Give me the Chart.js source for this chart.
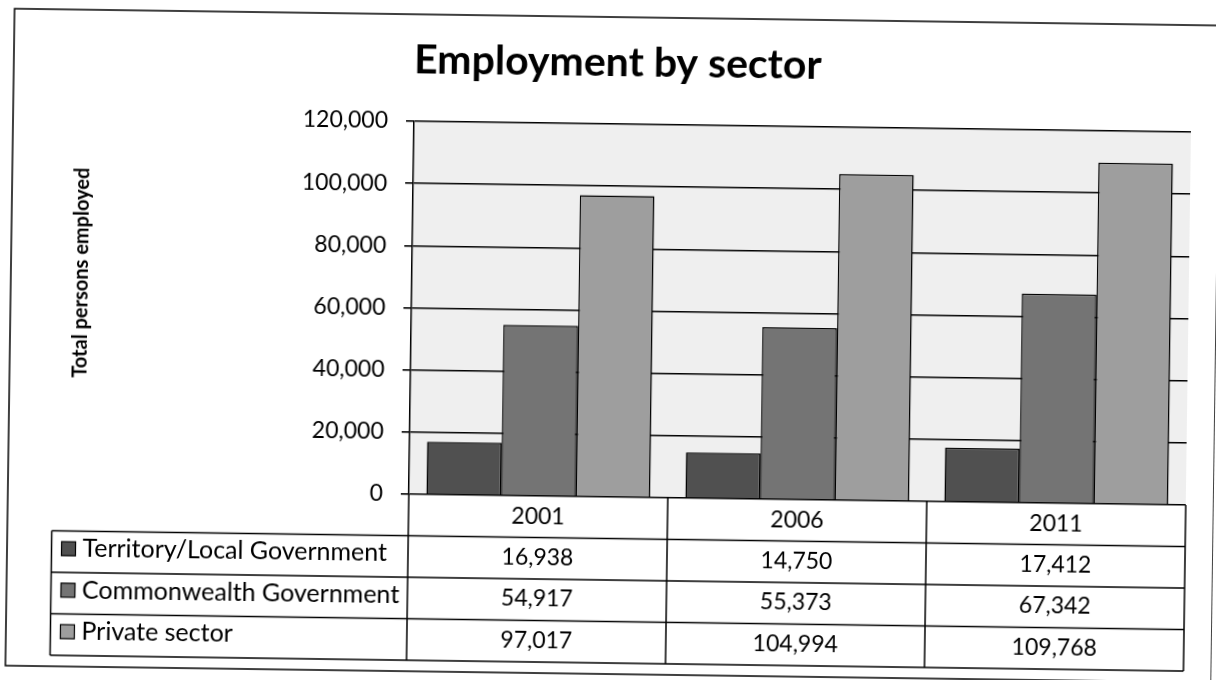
<!DOCTYPE html>
<html>
<head>
<meta charset="utf-8">
<title>Employment by sector</title>
<script src="https://cdn.jsdelivr.net/npm/chart.js@4.4.1/dist/chart.umd.min.js"></script>
<style>
  html, body { margin: 0; padding: 0; background: #fff; }
  #chart { display: block; transform: rotate(0.8deg); }
</style>
</head>
<body>
<canvas id="chart" width="1216" height="680"></canvas>
<script>
const years = ['2001', '2006', '2011'];
const territoryLocal = [16938, 14750, 17412];
const commonwealth = [54917, 55373, 67342];
const privateSector = [97017, 104994, 109768];
const seriesNames = ['Territory/Local Government', 'Commonwealth Government', 'Private sector'];
const yTicks = [0, 20000, 40000, 60000, 80000, 100000, 120000];

const FONT = 'Lato';
const fills = ['#505050', '#747474', '#9e9e9e'];
const fmt = v => v.toLocaleString('en-US');

// plot wall, outer frame, headings and the data table under the columns
const sheetExtras = {
    id: 'sheetExtras',
    beforeDraw(chart) {
        const { ctx, chartArea: a } = chart;
        ctx.save();
        ctx.fillStyle = '#efefef';
        ctx.fillRect(a.left, a.top, a.right - a.left, a.bottom - a.top);
        ctx.restore();
    },
    afterDraw(chart) {
        const { ctx, chartArea: a } = chart;
        const x = chart.scales.x;
        const rowH = 41.5;
        const top = a.bottom;
        const labelLeft = 54.5;
        const colW = x.getPixelForValue(1) - x.getPixelForValue(0);

        ctx.save();
        ctx.strokeStyle = '#000';
        ctx.lineWidth = 1.5;

        // outer frame
        ctx.strokeRect(10, 17, 1206, 657);

        // table grid
        ctx.beginPath();
        for (let r = 1; r <= 4; r++) {
            ctx.moveTo(labelLeft, top + r * rowH);
            ctx.lineTo(a.right, top + r * rowH);
        }
        ctx.moveTo(labelLeft, top + rowH);
        ctx.lineTo(labelLeft, top + 4 * rowH);
        for (let i = 0; i <= years.length; i++) {
            const gx = x.getPixelForValue(0) - colW / 2 + i * colW;
            ctx.moveTo(gx, top);
            ctx.lineTo(gx, top + 4 * rowH);
        }
        ctx.stroke();

        ctx.fillStyle = '#000';
        ctx.font = `23px ${FONT}`;
        ctx.textAlign = 'center';
        ctx.textBaseline = 'middle';
        years.forEach((y, i) => {
            ctx.fillText(y, x.getPixelForValue(i), top + rowH / 2);
        });
        chart.data.datasets.forEach((ds, r) => {
            const cy = top + (r + 1.5) * rowH - 1;
            ds.data.forEach((v, i) => ctx.fillText(fmt(v), x.getPixelForValue(i), cy));
        });

        // series keys in the first column
        ctx.textAlign = 'left';
        ctx.font = `25px ${FONT}`;
        chart.data.datasets.forEach((ds, r) => {
            const cy = top + (r + 1.5) * rowH - 3;
            ctx.fillStyle = ds.backgroundColor;
            ctx.fillRect(labelLeft + 10, cy - 7, 14, 14);
            ctx.lineWidth = 1.2;
            ctx.strokeRect(labelLeft + 10, cy - 7, 14, 14);
            ctx.fillStyle = '#000';
            ctx.fillText(ds.label, labelLeft + 31, cy);
        });

        // chart title
        ctx.textAlign = 'center';
        ctx.textBaseline = 'alphabetic';
        ctx.font = `bold 41px ${FONT}`;
        ctx.fillText('Employment by sector', 614, 76);

        // value axis title
        ctx.translate(81, 280);
        ctx.rotate(-Math.PI / 2);
        ctx.textBaseline = 'middle';
        ctx.font = `bold 20px ${FONT}`;
        ctx.fillText('Total persons employed', 0, 0);
        ctx.restore();
    }
};

const datasets = [territoryLocal, commonwealth, privateSector].map((data, i) => ({
    label: seriesNames[i],
    data: data,
    backgroundColor: fills[i],
    borderColor: '#000',
    borderWidth: 1.5,
    categoryPercentage: 0.865,
    barPercentage: 1.0
}));

new Chart(document.getElementById('chart'), {
    type: 'bar',
    data: { labels: years, datasets: datasets },
    options: {
        responsive: false,
        animation: false,
        layout: { padding: { left: 0, right: 28, top: 124, bottom: 183 } },
        plugins: {
            legend: { display: false },
            tooltip: { enabled: false }
        },
        scales: {
            x: { display: false },
            y: {
                min: 0,
                max: yTicks[yTicks.length - 1],
                afterFit(scale) { scale.width = 411; },
                afterBuildTicks(scale) { scale.ticks = yTicks.map(v => ({ value: v })); },
                border: { display: true, color: '#000', width: 1.5 },
                grid: { color: '#000', lineWidth: 1.6, tickLength: 8 },
                ticks: {
                    color: '#000',
                    padding: 18,
                    font: { family: FONT, size: 23 },
                    callback: v => fmt(v)
                }
            }
        }
    },
    plugins: [sheetExtras]
});
</script>
</body>
</html>
